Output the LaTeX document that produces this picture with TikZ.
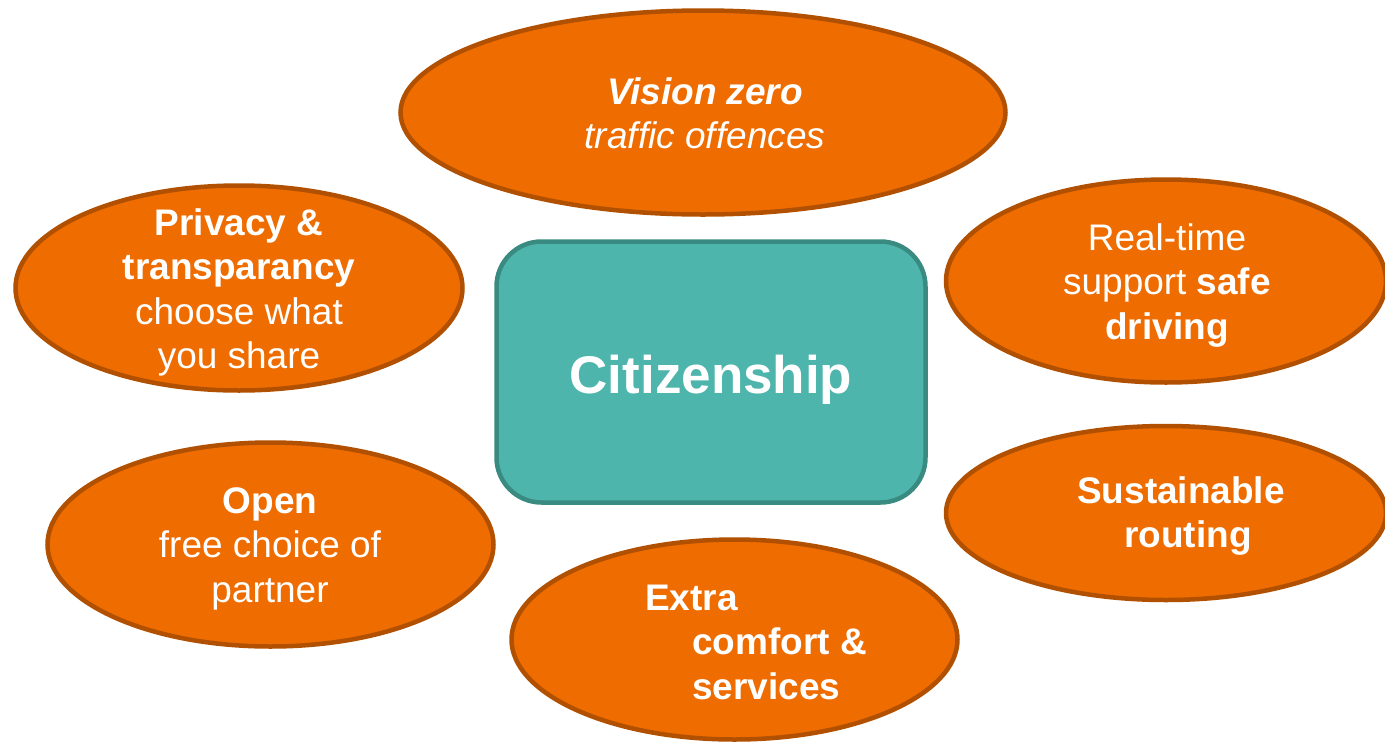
\documentclass[tikz,border=0pt]{standalone}
\usepackage{fontspec}
\setmainfont{Liberation Sans}
\usetikzlibrary{shapes.geometric}
\definecolor{org}{HTML}{EE6C00}
\definecolor{orgb}{HTML}{B05000}
\definecolor{tealf}{HTML}{4DB5AC}
\definecolor{tealb}{HTML}{398A80}
\begin{document}
\begin{tikzpicture}[x=1pt,y=-1pt,
  oval/.style={ellipse, draw=orgb, fill=org, line width=4.5pt, inner sep=0pt},
  txt/.style={text=white, anchor=base, inner sep=0pt, font=\fontsize{37}{44.5}\selectfont},
  hub/.style={rectangle, rounded corners=45pt, draw=tealb, fill=tealf, line width=4.5pt, inner sep=0pt}]
\useasboundingbox (0,0) rectangle (1385,745);
% ovals
\node[oval, minimum width=605pt, minimum height=204pt] (vz) at (703,112.5) {};
\node[oval, minimum width=447pt, minimum height=205pt] (pr) at (239,288) {};
\node[oval, minimum width=440pt, minimum height=203pt] (rt) at (1166,281) {};
\node[oval, minimum width=440pt, minimum height=174pt] (su) at (1166,513) {};
\node[oval, minimum width=446pt, minimum height=204pt] (op) at (270.5,544.5) {};
\node[oval, minimum width=446pt, minimum height=200pt] (ex) at (734.5,639.5) {};
% hub
\node[hub, minimum width=429pt, minimum height=261pt] (ci) at (711,372) {};
% texts
\node[txt] (vzt) at (705,104) {\begin{tabular}[t]{@{}c@{}}\bfseries\itshape Vision zero\\\itshape traffic offences\end{tabular}};
\node[txt] (prt) at (239,235) {\begin{tabular}[t]{@{}c@{}}\bfseries Privacy \&\\\bfseries transparancy\\choose what\\you share\end{tabular}};
\node[txt] (rtt) at (1167,250) {\begin{tabular}[t]{@{}c@{}}Real-time\\support \textbf{safe}\\\bfseries driving\end{tabular}};
\node[txt] (sut) at (1181,503) {\begin{tabular}[t]{@{}c@{}}\bfseries Sustainable\\\bfseries \hspace*{14pt}routing\end{tabular}};
\node[txt] (opt) at (270,513) {\begin{tabular}[t]{@{}c@{}}\bfseries Open\\free choice of\\partner\end{tabular}};
\node[txt, anchor=base west] (ext) at (645,610) {\begin{tabular}[t]{@{}l@{}}\bfseries Extra\\\bfseries \hspace*{47pt}comfort \&\\\bfseries \hspace*{47pt}services\end{tabular}};
\node[text=white, anchor=base, inner sep=0pt, font=\fontsize{53}{60}\selectfont\bfseries] (cit) at (711,393) {Citizenship};
\end{tikzpicture}
\end{document}
